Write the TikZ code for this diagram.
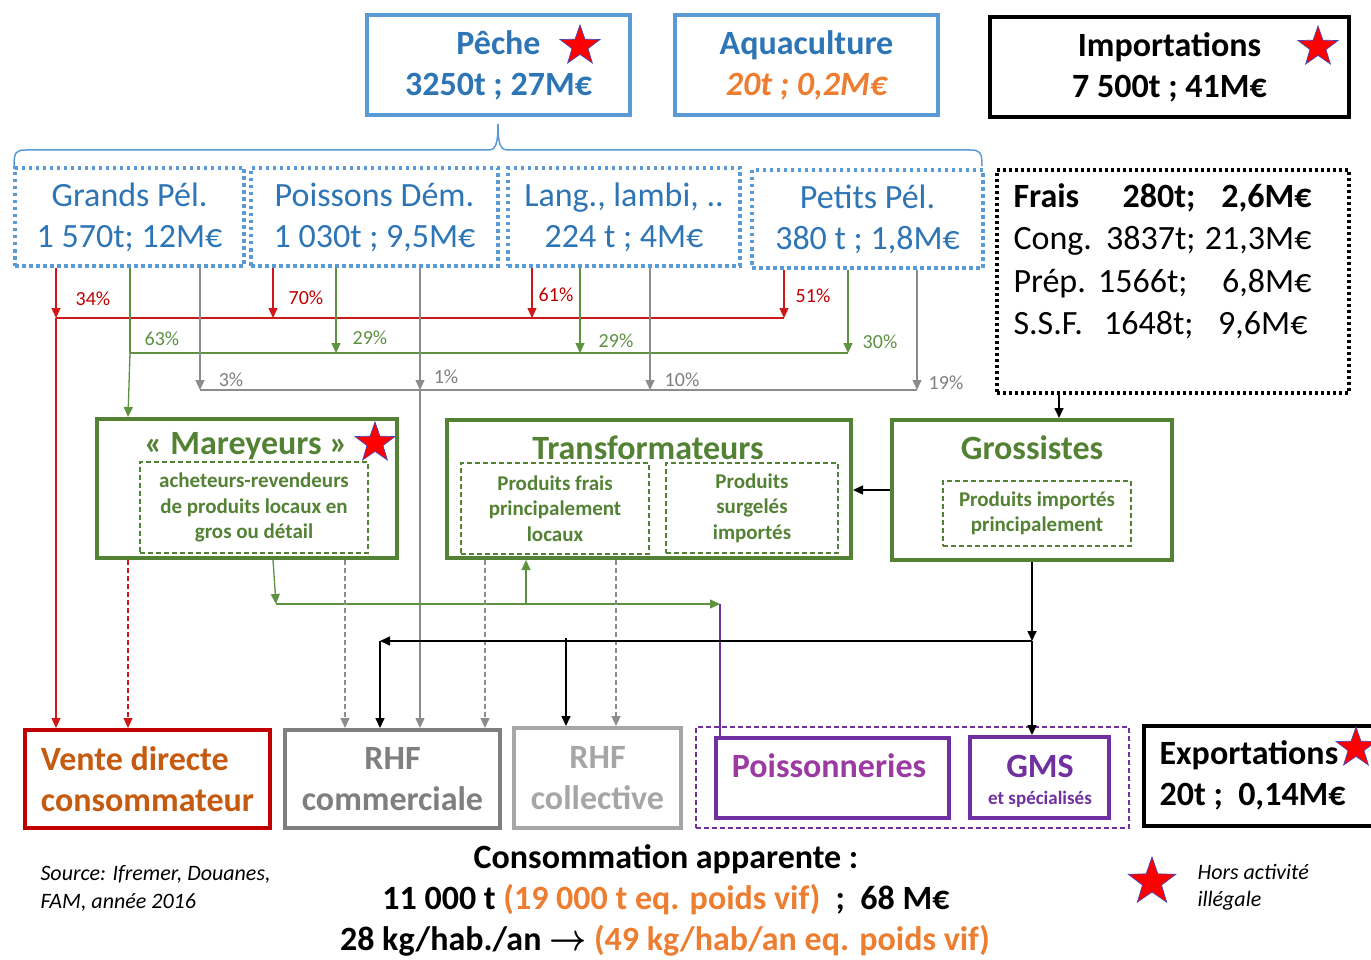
\documentclass[tikz,border=0pt]{standalone}
\usepackage{graphicx}
\usepackage{fontspec}
\setmainfont{Carlito}
\usetikzlibrary{shapes.geometric,arrows.meta,calc}
\definecolor{pblue}{HTML}{5B9BD5}
\definecolor{tblue}{HTML}{2E75B6}
\definecolor{cgreen}{HTML}{548235}
\definecolor{lgreen}{HTML}{5E9140}
\definecolor{cred}{HTML}{C00000}
\definecolor{lred}{HTML}{D01818}
\definecolor{cgray}{HTML}{7F7F7F}
\definecolor{lgray}{HTML}{A6A6A6}
\definecolor{corange}{HTML}{ED7D31}
\definecolor{cbrown}{HTML}{C55A11}
\definecolor{cpurple}{HTML}{7030A0}
\definecolor{cmag}{HTML}{9B3BA2}
\tikzset{
  big/.style={font=\fontsize{34}{41}\selectfont},
  bigb/.style={font=\bfseries\fontsize{34}{41}\selectfont},
  box/.style={rectangle, inner sep=0pt, align=center},
  bluebox/.style={box, draw=pblue, line width=3.5pt, text=tblue, bigb},
  dotbox/.style={box, draw=pblue, line width=3.5pt, dash pattern=on 3.5pt off 3.5pt, text=tblue, big},
  greenbox/.style={box, draw=cgreen, line width=4pt},
  innerbox/.style={box, draw=cgreen, line width=1.2pt, dash pattern=on 5pt off 3pt, text=cgreen, font=\bfseries\fontsize{21}{25.5}\selectfont},
  gtitle/.style={text=cgreen, bigb},
  redstar/.style={star, star points=5, star point ratio=2.5, fill=red, draw=blue!45!gray, line width=0.7pt, minimum size=42pt, inner sep=0pt},
  redl/.style={draw=lred, line width=1.3pt},
  greenl/.style={draw=lgreen, line width=1.3pt},
  grayl/.style={draw=cgray!90, line width=1.3pt},
  grdash/.style={draw=cgray!90, line width=1.2pt, dash pattern=on 5pt off 3pt},
  blk/.style={draw=black, line width=1.6pt},
  pct/.style={font=\fontsize{20}{22}\selectfont},
  constxt/.style={bigb, inner sep=0pt, text height=24pt, text depth=7pt},
}
\begin{document}
\begin{tikzpicture}[x=1pt,y=-1pt, >={Triangle[length=10pt,width=9pt]}]
\clip (0,0) rectangle (1371,960);
\fill[white] (0,0) rectangle (1371,960);

% top sources
\node[bluebox, minimum width=263pt, minimum height=100pt] (peche) at (498.5,65) {Pêche\\3250t ; 27M€};
\node[redstar] (s1) at (580,46) {};
\node[bluebox, minimum width=263pt, minimum height=100pt] (aqua) at (806.5,65) {Aquaculture\\{\itshape\color{corange}20t ; 0,2M€}};
\node[box, draw=black, line width=3.8pt, bigb, minimum width=359pt, minimum height=100pt] (imp) at (1169.5,67) {Importations\\7 500t ; 41M€};
\node[redstar] (s2) at (1318,47) {};

% brace
\draw[pblue, line width=1.5pt] (14,166) .. controls (14,152) and (16,150) .. (26,150) -- (488,150) .. controls (495,150) and (498,146) .. (498,124) .. controls (498,146) and (501,150) .. (508,150) -- (970,150) .. controls (980,150) and (982,152) .. (982,166);

% species boxes
\node[dotbox, minimum width=229pt, minimum height=98pt] (gp) at (129.5,217) {Grands Pél.\\1 570t; 12M€};
\node[dotbox, minimum width=247pt, minimum height=98pt] (pd) at (374.5,217) {Poissons Dém.\\1 030t ; 9,5M€};
\node[dotbox, minimum width=232pt, minimum height=98pt] (lang) at (624,217) {Lang., lambi, ..\\224 t ; 4M€};
\node[dotbox, minimum width=231pt, minimum height=98pt] (pp) at (867.5,219) {Petits Pél.\\380 t ; 1,8M€};

% imports detail
\node[box, draw=black, line width=3.5pt, dash pattern=on 3pt off 3pt, minimum width=352pt, minimum height=223pt] (impd) at (1173,281.5) {};
\node[anchor=base west, bigb] (f1) at (1010,208) {Frais};
\node[anchor=base east, bigb] (f2) at (1199,208) {280t;};
\node[anchor=base east, bigb] (f3) at (1315,208) {2,6M€};
\node[anchor=base west, big] (c1) at (1010,250) {Cong.};
\node[anchor=base east, big] (c2) at (1199,250) {3837t;};
\node[anchor=base east, big] (c3) at (1315,250) {21,3M€};
\node[anchor=base west, big] (p1) at (1010,292) {Prép.};
\node[anchor=base east, big] (p2) at (1191,292) {1566t;};
\node[anchor=base east, big] (p3) at (1315,292) {6,8M€};
\node[anchor=base west, big] (q1) at (1010,334) {S.S.F.};
\node[anchor=base east, big] (q2) at (1197,334) {1648t;};
\node[anchor=base east, big] (q3) at (1311,334) {9,6M€};

% middle boxes
\node[greenbox, minimum width=300pt, minimum height=139pt] (mar) at (247,488.5) {};
\node[gtitle] (mart) at (246,446) {« Mareyeurs »};
\node[redstar] (s3) at (375,443) {};
\node[innerbox, minimum width=228pt, minimum height=91pt] (mari) at (254,507.5) {\rule{0pt}{3pt}acheteurs-revendeurs\\de produits locaux en\\gros ou détail};

\node[greenbox, minimum width=404pt, minimum height=138pt] (tr) at (649,489) {};
\node[gtitle] (trt) at (648,448) {Transformateurs};
\node[innerbox, minimum width=188pt, minimum height=91pt] (tri1) at (555,508.5) {Produits frais\\principalement\\locaux};
\node[innerbox, minimum width=172pt, minimum height=90pt] (tri2) at (752,508) {Produits\\surgelés\\importés};

\node[greenbox, minimum width=280pt, minimum height=140pt] (gros) at (1032,490) {};
\node[gtitle] (grost) at (1032,448) {Grossistes};
\node[innerbox, minimum width=188pt, minimum height=65pt] (grosi) at (1037,513.5) {Produits importés\\principalement};

% bottom boxes
\node[box, draw=cred, line width=4pt, minimum width=245pt, minimum height=98pt, text=cbrown, bigb, align=left] (vd) at (147.5,779) {Vente directe\\consommateur};
\node[box, draw=cgray, line width=4pt, minimum width=215pt, minimum height=98pt, text=cgray, bigb] (rc) at (392.5,779) {RHF\\commerciale};
\node[box, draw=lgray, line width=4pt, minimum width=167pt, minimum height=100pt, text=lgray, bigb] (rcol) at (597.5,778) {RHF\\collective};
\node[box, draw=cpurple, line width=1.2pt, dash pattern=on 5pt off 3pt, minimum width=433pt, minimum height=101pt] (grp) at (912.5,777.5) {};
\node[box, draw=cpurple, line width=3.8pt, minimum width=233pt, minimum height=80pt] (pois) at (832.5,778) {};
\node[text=cmag, bigb] (poist) at (829,766) {Poissonneries};
\node[box, draw=cpurple, line width=3.8pt, minimum width=139pt, minimum height=81pt] (gms) at (1039.5,777.5) {};
\node[text=cpurple, bigb] (gmst) at (1040,766) {GMS};
\node[text=cpurple, font=\bfseries\fontsize{19}{22}\selectfont] (gmss) at (1040,799) {et spécialisés};
\node[box, draw=black, line width=4pt, minimum width=236pt, minimum height=100pt] (exp) at (1262,776) {};
\node[anchor=west, bigb, align=left] (expt) at (1156,775) {Exportations\\20t ;\ \ 0,14M€};
\node[redstar] (s4) at (1356,748) {};

% bus coordinates
\coordinate (rb1) at (56,318); \coordinate (rb2) at (273,318); \coordinate (rb3) at (532,318); \coordinate (rb4) at (784,318);
\coordinate (gb1) at (130,353); \coordinate (gb2) at (336,353); \coordinate (gb3) at (580,353); \coordinate (gb4) at (848,353);
\coordinate (yb1) at (200,390); \coordinate (yb2) at (420,390); \coordinate (yb3) at (650,390); \coordinate (yb4) at (917,390);

% red
\draw[redl,->] (gp.south -| rb1) -- (rb1);
\draw[redl,->] (pd.south -| rb2) -- (rb2);
\draw[redl,->] (lang.south -| rb3) -- (rb3);
\draw[redl,->] (pp.south -| rb4) -- (rb4);
\draw[redl] (rb1) -- (rb4);
\draw[redl,->] (rb1) -- (vd.north -| rb1);
\node[pct, text=cred] (l34) at (93,299) {34\%};
\node[pct, text=cred] (l70) at (306,298) {70\%};
\node[pct, text=cred] (l61) at (556,295) {61\%};
\node[pct, text=cred] (l51) at (813,296) {51\%};

% green
\draw[greenl] (gp.south -| gb1) -- (gb1);
\draw[greenl,->] (pd.south -| gb2) -- (gb2);
\draw[greenl,->] (lang.south -| gb3) -- (gb3);
\draw[greenl,->] (pp.south -| gb4) -- (gb4);
\draw[greenl] (gb1) -- (gb4);
\coordinate (gm) at (128,0);
\draw[greenl,->] (gb1) -- (mar.north -| gm);
\node[pct, text=lgreen] (l63) at (162,339) {63\%};
\node[pct, text=lgreen] (l29a) at (370,338) {29\%};
\node[pct, text=lgreen] (l29b) at (616,341) {29\%};
\node[pct, text=lgreen] (l30) at (880,342) {30\%};

% gray
\draw[grayl,->] (gp.south -| yb1) -- (yb1);
\draw[grayl,->] (pd.south -| yb2) -- (yb2);
\draw[grayl,->] (lang.south -| yb3) -- (yb3);
\draw[grayl,->] (pp.south -| yb4) -- (yb4);
\draw[grayl] (yb1) -- (yb4);
\draw[grayl,->] (yb2) -- (rc.north -| yb2);
\node[pct, text=cgray] (l3) at (231,380) {3\%};
\node[pct, text=cgray] (l1) at (446,377) {1\%};
\node[pct, text=cgray] (l10) at (682,380) {10\%};
\node[pct, text=cgray] (l19) at (946,383) {19\%};

% imports -> grossistes
\coordinate (xi) at (1059,0);
\draw[blk,->] (impd.south -| xi) -- (gros.north -| xi);
\draw[blk,->] (gros.west) -- (tr.east |- gros.west);

% mareyeurs outputs
\coordinate (xr) at (128,0); \coordinate (xg) at (273,0); \coordinate (xd1) at (345,0);
\coordinate (xd2) at (485,0); \coordinate (xd3) at (616,0);
\coordinate (gmb1) at (276,604); \coordinate (gmb2) at (720,604); \coordinate (gmb3) at (526,604);
\draw[redl, dash pattern=on 5pt off 3pt, ->] (mar.south -| xr) -- (vd.north -| xr);
\draw[greenl,->] (mar.south -| xg) -- (gmb1);
\draw[greenl,->] (gmb1) -- (gmb2);
\draw[greenl,->] (gmb3) -- (tr.south -| gmb3);
\draw[draw=cpurple, line width=1.3pt] (gmb2) -- (pois.north -| gmb2);
\draw[grdash,->] (mar.south -| xd1) -- (rc.north -| xd1);
\draw[grdash,->] (tr.south -| xd2) -- (rc.north -| xd2);
\draw[grdash,->] (tr.south -| xd3) -- (rcol.north -| xd3);

% grossistes outputs
\coordinate (kb1) at (1032,641); \coordinate (kb2) at (380,641); \coordinate (kb3) at (566,638);
\draw[blk,->] (gros.south -| kb1) -- (kb1);
\draw[blk,->] (kb1) -- (gms.north -| kb1);
\draw[blk,->] (kb1) -- (kb2);
\draw[blk,->] (kb2) -- (rc.north -| kb2);
\draw[blk,->] (kb3) -- (rcol.north -| kb3);

% bottom text
\node[anchor=west, align=left, font=\itshape\fontsize{22}{28}\selectfont] (src) at (37,888) {Source: Ifremer, Douanes,\\FAM, année 2016};
\node[constxt] (cons1) at (666,860) {Consommation apparente :};
\node[constxt] (cons2) at (666,901) {11 000 t {\color{corange}(19 000 t eq. poids vif)}\ \ ;\ \ 68 M€};
\node[constxt] (cons3) at (665,942) {28 kg/hab./an \scalebox{1.3}[1.5]{\boldmath$\rightarrow$} {\color{corange}(49 kg/hab/an eq. poids vif)}};
\node[redstar, minimum size=50pt] (s5) at (1152,882) {};
\node[anchor=west, align=left, font=\itshape\fontsize{22}{27}\selectfont] (leg) at (1194,887) {Hors activité\\illégale};
\end{tikzpicture}
\end{document}
